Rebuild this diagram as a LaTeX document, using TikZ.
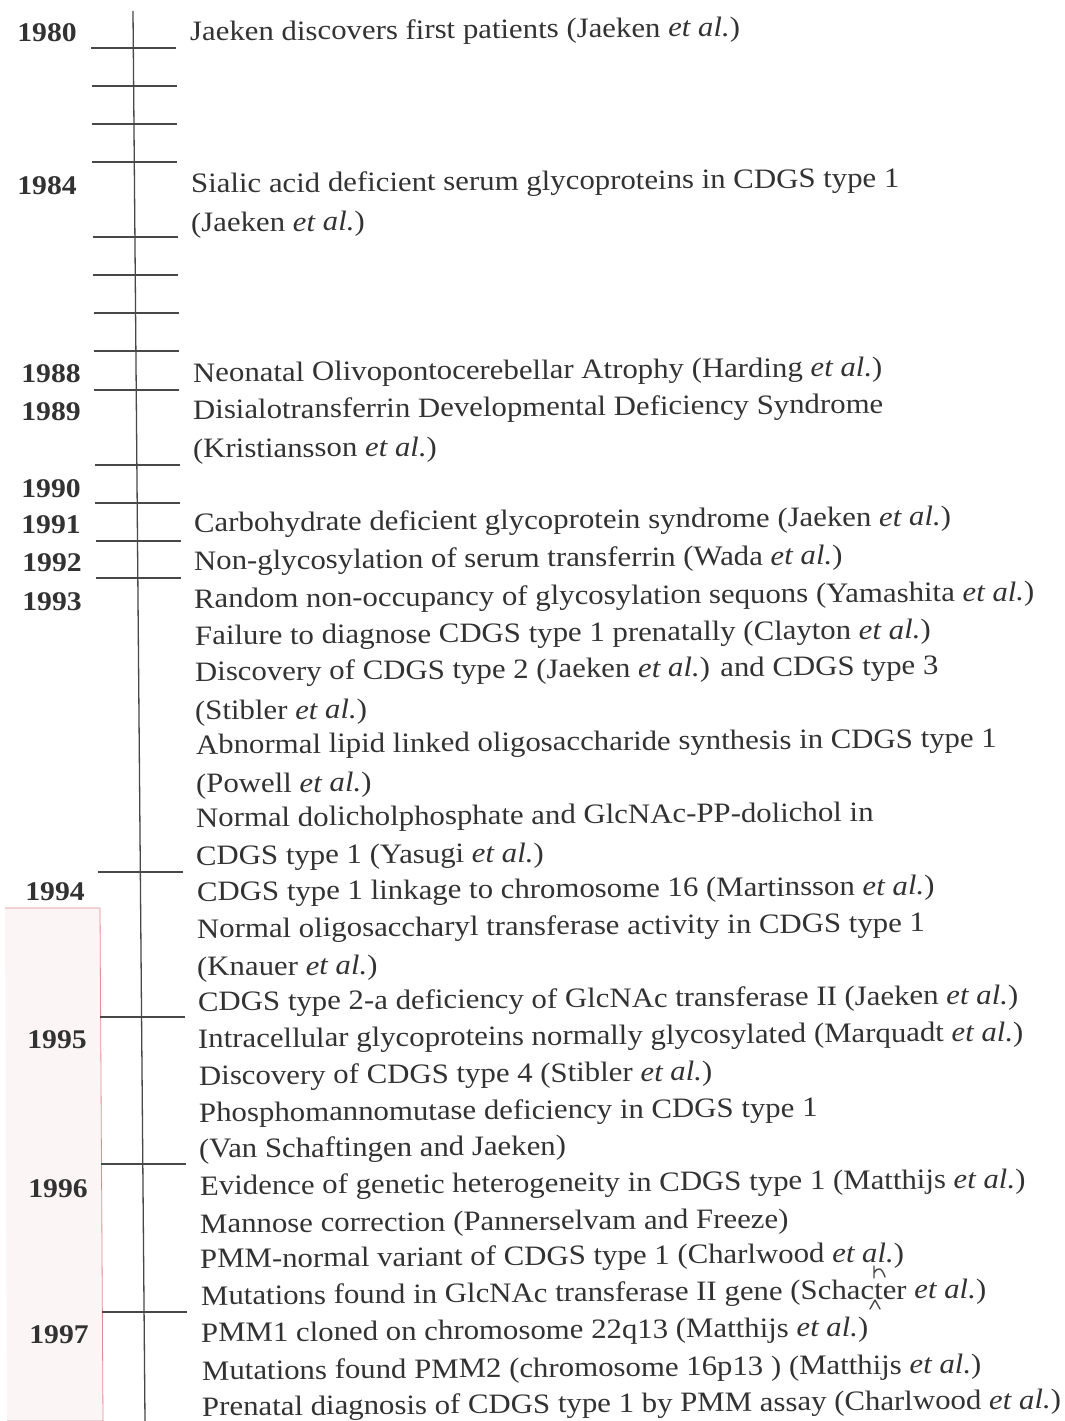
\documentclass[tikz,border=0pt]{standalone}
\usepackage{fontspec}
\setmainfont[FakeStretch=1.1]{Liberation Serif}
\usetikzlibrary{calc}
\definecolor{inkc}{RGB}{50,50,50}
\definecolor{rulec}{RGB}{72,72,72}
\definecolor{pinkline}{RGB}{228,140,150}
\definecolor{pinkfill}{RGB}{251,245,246}
\newcommand{\etalx}{\textit{et al.}}
\tikzset{
  entry/.style={anchor=base west, inner sep=0pt, text=inkc, rotate=0.49,
    font=\fontsize{28}{32}\selectfont},
  yearlbl/.style={anchor=base, inner sep=0pt, text=inkc,
    font=\fontsize{27}{30}\selectfont\bfseries},
  axis/.style={draw=rulec, line width=1.3pt},
  tickmark/.style={draw=rulec, line width=1.3pt},
  pencil/.style={draw=rulec, line width=1.4pt, line cap=round, line join=round}
}
\begin{document}
\begin{tikzpicture}[x=1pt,y=-1pt]
\useasboundingbox[fill=white] (0,0) rectangle (1065,1421);

% shaded margin panel
\draw[draw=pinkline, fill=pinkfill, line width=0.8pt]
  (5,908) -- (100,908) -- (103,1421) -- (7,1421);

% time axis
\coordinate (top) at (133,11);
\coordinate (bot) at (145,1421);
\draw[axis] (top) -- (bot);

% year ticks (y positions along the axis)
\foreach \ty in {48,86,124,162,237,275,313,351,390,465,503,541,578,872,1017,1164,1312}{
  \pgfmathsetmacro{\tt}{(\ty-11)/1410}
  \coordinate (c) at ($(top)!\tt!(bot)$);
  \draw[tickmark] ($(c)+(-42,0)$) -- ($(c)+(43,0)$);
}

% years
\node[yearlbl] (y1980) at (47,42) {1980};
\node[yearlbl] (y1984) at (47,194) {1984};
\node[yearlbl] (y1988) at (51,382) {1988};
\node[yearlbl] (y1989) at (51,420) {1989};
\node[yearlbl] (y1990) at (51,497) {1990};
\node[yearlbl] (y1991) at (51,533) {1991};
\node[yearlbl] (y1992) at (52,571) {1992};
\node[yearlbl] (y1993) at (52,610) {1993};
\node[yearlbl] (y1994) at (55,900) {1994};
\node[yearlbl] (y1995) at (57,1048) {1995};
\node[yearlbl] (y1996) at (58,1197) {1996};
\node[yearlbl] (y1997) at (59,1343) {1997};

% events
\node[entry] (e1)  at (190,41)   {Jaeken discovers first patients (Jaeken \etalx)};
\node[entry] (e2)  at (191,193)  {Sialic acid deficient serum glycoproteins in CDGS type 1};
\node[entry] (e3)  at (191,232)  {(Jaeken \etalx)};
\node[entry] (e4)  at (193,382)  {Neonatal Olivopontocerebellar Atrophy (Harding \etalx)};
\node[entry] (e5)  at (193,419)  {Disialotransferrin Developmental Deficiency Syndrome};
\node[entry] (e6)  at (193,458)  {(Kristiansson \etalx)};
\node[entry] (e7)  at (194,532)  {Carbohydrate deficient glycoprotein syndrome (Jaeken \etalx)};
\node[entry] (e8)  at (194,570)  {Non-glycosylation of serum transferrin (Wada \etalx)};
\node[entry] (e9)  at (194,608)  {Random non-occupancy of glycosylation sequons (Yamashita \etalx)};
\node[entry] (e10) at (195,645)  {Failure to diagnose CDGS type 1 prenatally (Clayton \etalx)};
\node[entry] (e11) at (195,681)  {Discovery of CDGS type 2 (Jaeken \etalx) and CDGS type 3};
\node[entry] (e12) at (195,720)  {(Stibler \etalx)};
\node[entry] (e13) at (196,754)  {Abnormal lipid linked oligosaccharide synthesis in CDGS type 1};
\node[entry] (e14) at (196,793)  {(Powell \etalx)};
\node[entry] (e15) at (196,827)  {Normal dolicholphosphate and GlcNAc-PP-dolichol in};
\node[entry] (e16) at (196,865)  {CDGS type 1 (Yasugi \etalx)};
\node[entry] (e17) at (197,901)  {CDGS type 1 linkage to chromosome 16 (Martinsson \etalx)};
\node[entry] (e18) at (197,938)  {Normal oligosaccharyl transferase activity in CDGS type 1};
\node[entry] (e19) at (197,976)  {(Knauer \etalx)};
\node[entry] (e20) at (198,1011) {CDGS type 2-a deficiency of GlcNAc transferase II (Jaeken \etalx)};
\node[entry] (e21) at (198,1048) {Intracellular glycoproteins normally glycosylated (Marquadt \etalx)};
\node[entry] (e22) at (199,1085) {Discovery of CDGS type 4 (Stibler \etalx)};
\node[entry] (e23) at (199,1122) {Phosphomannomutase deficiency in CDGS type 1};
\node[entry] (e24) at (199,1158) {(Van Schaftingen and Jaeken)};
\node[entry] (e25) at (200,1195) {Evidence of genetic heterogeneity in CDGS type 1 (Matthijs \etalx)};
\node[entry] (e26) at (200,1233) {Mannose correction (Pannerselvam and Freeze)};
\node[entry] (e27) at (200,1268) {PMM-normal variant of CDGS type 1 (Charlwood \etalx)};
\node[entry] (e28) at (201,1305) {Mutations found in GlcNAc transferase II gene (Schacter \etalx)};
\node[entry] (e29) at (201,1342) {PMM1 cloned on chromosome 22q13 (Matthijs \etalx)};
\node[entry] (e30) at (202,1380) {Mutations found PMM2 (chromosome 16p13 ) (Matthijs \etalx)};
\node[entry] (e31) at (202,1416) {Prenatal diagnosis of CDGS type 1 by PMM assay (Charlwood \etalx)};

% pencilled insertion mark over "Schacter"
\draw[pencil] (874,1266) -- (874,1278)
  (874,1273) .. controls (878,1266) and (882,1268) .. (885,1277);
\draw[pencil] (870,1309) -- (875,1300) -- (880,1309);
\end{tikzpicture}
\end{document}
